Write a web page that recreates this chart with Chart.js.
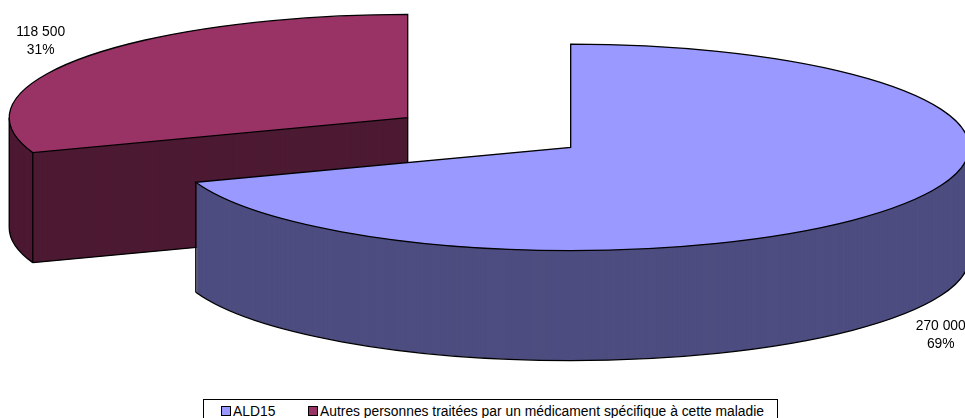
<!DOCTYPE html>
<html>
<head>
<meta charset="utf-8">
<script src="https://cdn.jsdelivr.net/npm/chart.js@4/dist/chart.umd.js"></script>
<style>
    html, body { margin: 0; padding: 0; background: #fff; overflow: hidden; }
    #zone { position: relative; width: 965px; height: 418px; overflow: hidden; }
    #legende {
        position: absolute; left: 203px; top: 399px; width: 573px; height: 30px;
        border: 1px solid #000; background: #fff; box-sizing: content-box;
        font: 13.85px "Liberation Sans", Arial, sans-serif; color: #000; white-space: nowrap;
    }
    #legende span { position: absolute; top: 4px; line-height: 14px; }
    #legende i {
        position: absolute; top: 6px; width: 8px; height: 8px;
        border: 1px solid #000; box-sizing: content-box;
    }
</style>
</head>
<body>
<div id="zone">
    <canvas id="camembert" width="965" height="418"></canvas>
    <div id="legende"></div>
</div>
<script>
// Donnees du graphique
const categories = ["ALD15", "Autres personnes traitées par un médicament spécifique à cette maladie"];
const valeurs = [270000, 118500];
const couleurs = ["#9999FF", "#993366"];
const couleursCote = ["#4D4D80", "#4D1A33"];

// Reglages de la vue 3D
const ecrasement = 0.259;
const profondeur = 110;
const eclatement = 99.6;
// Decalage des etiquettes par rapport au bord de la part
const decalageEtiquette = [[44, 18], [-41, -17]];

const total = valeurs.reduce(function(a, b) { return a + b; }, 0);

function formatValeur(v) {
    return String(v).replace(/\B(?=(\d{3})+$)/g, " ");
}

// Centre de la part une fois eclatee
function centrePart(arc) {
    let milieu = (arc.startAngle + arc.endAngle) / 2;
    return {
        x: arc.x + Math.cos(milieu) * eclatement,
        y: arc.y + Math.sin(milieu) * eclatement * ecrasement,
        milieu: milieu
    };
}

function dessinerPart(ctx, arc, index) {
    let c = centrePart(arc);
    let r = arc.outerRadius;
    let ry = r * ecrasement;
    let debut = arc.startAngle;
    let fin = arc.endAngle;

    function posai(angle, dy) {
        return [c.x + Math.cos(angle) * r, c.y + Math.sin(angle) * ry + dy];
    }

    function poser(dy, part) {
        ctx.save();
        ctx.translate(c.x, c.y + dy);
        ctx.scale(1, ecrasement);
        ctx.translate(-arc.x, -arc.y);
        part.draw(ctx);
        ctx.restore();
    }

    // Le cote : la meme part empilee, en couleur sombre
    let cote = Object.create(arc);
    cote.options = Object.create(arc.options, { backgroundColor: { value: couleursCote[index] } });
    for (let d = profondeur; d >= 1; d--) {
        poser(d, cote);
    }

    ctx.save();
    ctx.strokeStyle = "#000";
    ctx.lineWidth = 1.3;

    function trait(a, b) {
        ctx.beginPath();
        ctx.moveTo(a[0], a[1]);
        ctx.lineTo(b[0], b[1]);
        ctx.stroke();
    }

    // Bord bas : seulement la moitie de devant (angles 0 a PI sur le canvas)
    let plage = [];
    for (let k = -1; k <= 1; k++) {
        let a = Math.max(debut, k * 2 * Math.PI);
        let b = Math.min(fin, k * 2 * Math.PI + Math.PI);
        if (b > a) plage.push([a, b]);
    }
    plage.forEach(function(p) {
        ctx.save();
        ctx.translate(c.x, c.y + profondeur);
        ctx.scale(1, ecrasement);
        ctx.beginPath();
        ctx.arc(0, 0, r, p[0], p[1]);
        ctx.restore();
        ctx.stroke();
        // Aretes verticales aux extremites visibles
        trait(posai(p[0], 0), posai(p[0], profondeur));
        trait(posai(p[1], 0), posai(p[1], profondeur));
    });

    // Arete du centre et bas du mur quand la pointe regarde vers nous
    if (fin - debut < Math.PI && Math.sin(c.milieu) < 0) {
        let pointe = [c.x, c.y];
        let pointeBas = [c.x, c.y + profondeur];
        trait(pointe, pointeBas);
        [debut, fin].forEach(function(angle) {
            if (Math.sin(angle) > 0) trait(pointeBas, posai(angle, profondeur));
        });
    }

    // Le dessus
    poser(0, arc);
    ctx.save();
    ctx.translate(c.x, c.y);
    ctx.scale(1, ecrasement);
    ctx.beginPath();
    ctx.moveTo(0, 0);
    ctx.arc(0, 0, r, debut, fin);
    ctx.closePath();
    ctx.restore();
    ctx.stroke();
    ctx.restore();
}

const pluginCamembert3D = {
    id: "camembert3D",
    beforeDatasetDraw: function(chart, args) {
        let ctx = chart.ctx;
        let parts = chart.getDatasetMeta(args.index).data;
        // Du fond vers l'avant : la part du haut d'abord
        for (let i = parts.length - 1; i >= 0; i--) {
            dessinerPart(ctx, parts[i], i);
        }
        return false;
    },
    afterDatasetsDraw: function(chart) {
        let ctx = chart.ctx;
        let parts = chart.getDatasetMeta(0).data;
        ctx.save();
        ctx.fillStyle = "#000";
        ctx.font = '13.85px "Liberation Sans", Arial, sans-serif';
        ctx.textAlign = "center";
        ctx.textBaseline = "middle";
        parts.forEach(function(arc, i) {
            let c = centrePart(arc);
            let r = arc.outerRadius;
            let bas = Math.sin(c.milieu) > 0 ? profondeur : 0;
            let x = c.x + Math.cos(c.milieu) * r + decalageEtiquette[i][0];
            let y = c.y + Math.sin(c.milieu) * r * ecrasement + bas + decalageEtiquette[i][1];
            ctx.fillText(formatValeur(valeurs[i]), x, y - 9);
            ctx.fillText(Math.round(valeurs[i] / total * 100) + "%", x, y + 9);
        });
        ctx.restore();
    }
};

new Chart("camembert", {
    type: "pie",
    data: {
        labels: categories,
        datasets: [{
            data: valeurs,
            backgroundColor: couleurs,
            borderWidth: 0,
            clip: false
        }]
    },
    options: {
        responsive: false,
        animation: false,
        radius: 398.5,
        layout: { padding: { left: 13.4, bottom: 153 } },
        plugins: {
            legend: { display: false },
            tooltip: { enabled: false }
        }
    },
    plugins: [pluginCamembert3D]
});

// Legende
const legende = document.getElementById("legende");
const posCarre = [17, 104];
const posTexte = [29, 116];
categories.forEach(function(nom, i) {
    let carre = document.createElement("i");
    carre.style.left = posCarre[i] + "px";
    carre.style.background = couleurs[i];
    legende.appendChild(carre);
    let texte = document.createElement("span");
    texte.style.left = posTexte[i] + "px";
    texte.textContent = nom;
    legende.appendChild(texte);
});
</script>
</body>
</html>
